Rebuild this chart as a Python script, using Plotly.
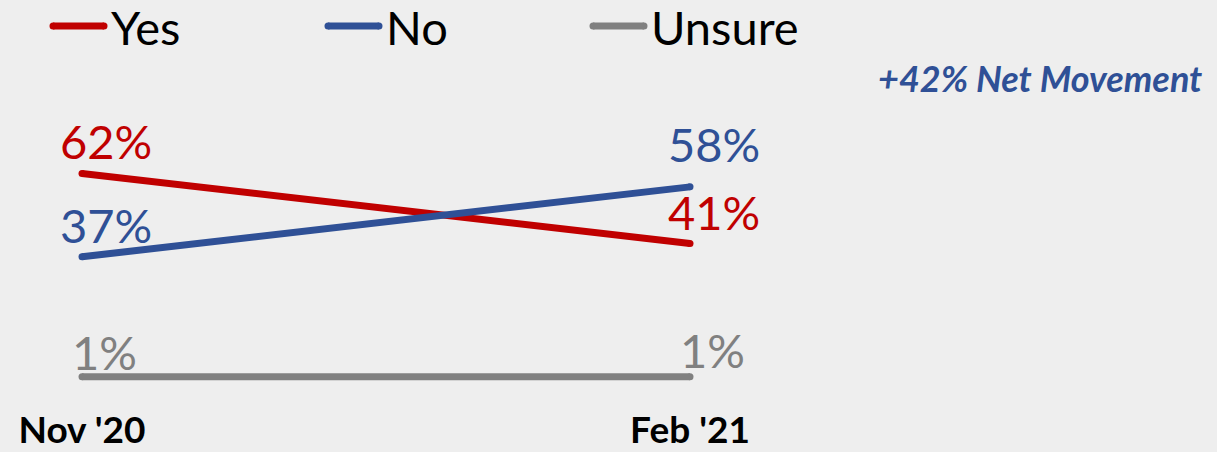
import plotly.graph_objects as go

periods = ["Nov '20", "Feb '21"]
series_names = ["Yes", "No", "Unsure"]
yes_vals = [62, 41]
no_vals = [37, 58]
unsure_vals = [1, 1]
net_note = "+42% Net Movement"

colors = {"Yes": "#C00000", "No": "#2F5096", "Unsure": "#808080"}
values = {"Yes": yes_vals, "No": no_vals, "Unsure": unsure_vals}
# label vertical offsets (px) per series/point
label_shift = {"Yes": [33, 31], "No": [32, 43], "Unsure": [25, 27]}

FONT = "Lato, Carlito, Calibri, sans-serif"
W, H = 1217, 452
xpos = list(range(len(periods)))

fig = go.Figure()
for name in series_names:
    fig.add_trace(go.Scatter(
        x=xpos, y=values[name], mode="lines+markers", name=name,
        line=dict(color=colors[name], width=7),
        marker=dict(color=colors[name], size=7, line=dict(width=0)),
        showlegend=False, hoverinfo="skip"))
    for i, v in enumerate(values[name]):
        fig.add_annotation(x=xpos[i], y=v, text=f"{v}%", showarrow=False,
                           xshift=24 if name != "Unsure" else 22,
                           yshift=label_shift[name][i],
                           font=dict(family=FONT, size=47, color=colors[name]))

# manual legend
leg_x = [50, 325, 590]
plot_h = 405
for name, lx in zip(series_names, leg_x):
    fig.add_shape(type="line", xref="paper", yref="paper",
                  x0=(lx + 3) / W, x1=(lx + 54) / W,
                  y0=1 - 26 / plot_h, y1=1 - 26 / plot_h,
                  line=dict(color=colors[name], width=7))
    for xe in (lx + 3, lx + 54):
        fig.add_shape(type="circle", xref="paper", yref="paper",
                      x0=(xe - 3.5) / W, x1=(xe + 3.5) / W,
                      y0=1 - 29.5 / plot_h, y1=1 - 22.5 / plot_h,
                      fillcolor=colors[name], line=dict(width=0))
    fig.add_annotation(xref="paper", yref="paper", x=(lx + 59) / W,
                       y=1 - 27 / plot_h, xanchor="left", yanchor="middle",
                       text=name, showarrow=False,
                       font=dict(family=FONT, size=47, color="#000000"))

fig.add_annotation(xref="paper", yref="paper", x=1204 / W, y=1 - 78 / plot_h,
                   xanchor="right", yanchor="middle", text=f"<b><i>{net_note}</i></b>",
                   showarrow=False, font=dict(family=FONT, size=36, color="#2F5096"))

x0px, x1px = 82, 690
ppu = x1px - x0px
fig.update_xaxes(range=[-x0px / ppu, (W - x0px) / ppu], tickvals=xpos,
                 ticktext=[f"<b>{p}</b>" for p in periods], showgrid=False,
                 zeroline=False, showline=False, ticks="", automargin=False,
                 ticklabelstandoff=0,
                 tickfont=dict(family=FONT, size=37, color="#000000"))
ypx0, ypp = 380, 3.33
fig.update_yaxes(range=[-(plot_h - ypx0) / ypp, ypx0 / ypp], visible=False,
                 automargin=False)

fig.update_layout(width=W, height=H, margin=dict(l=0, r=0, t=0, b=H - plot_h),
                  paper_bgcolor="#EEEEEE", plot_bgcolor="#EEEEEE",
                  showlegend=False)
fig.write_html("out.html", config={"displayModeBar": False},
               post_script="document.body.style.margin='0';document.body.style.overflow='hidden';")
